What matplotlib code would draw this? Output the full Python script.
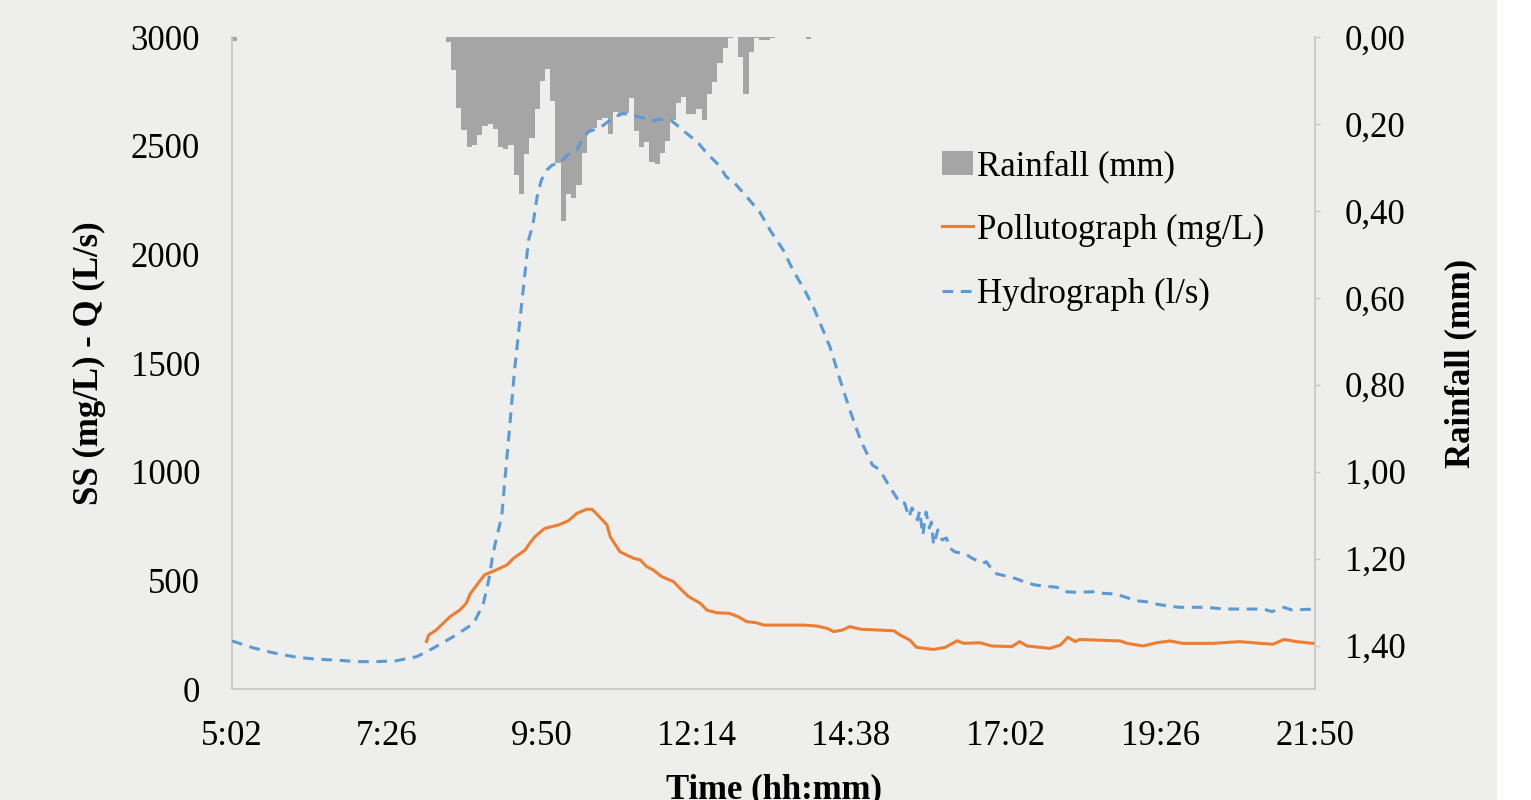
import matplotlib
matplotlib.use("Agg")
import matplotlib.pyplot as plt
from matplotlib.patches import Rectangle
import numpy as np

plt.rcParams['font.family'] = ['Liberation Serif', 'DejaVu Serif']

# ---- data ----
hydro_time = ["5:02", "5:22", "5:40", "6:02", "6:21", "6:39", "6:58", "7:17", "7:35", "7:54",
              "8:09", "8:28", "8:47", "8:56", "9:01", "9:04", "9:07", "9:13", "9:16", "9:21",
              "9:25", "9:30", "9:35", "9:38", "9:42", "9:46", "9:50", "9:55", "10:00", "10:07",
              "10:14", "10:23", "10:29", "10:34", "10:43", "10:48", "10:57", "11:06", "11:15", "11:22",
              "11:34", "11:39", "11:50", "11:56", "12:05", "12:15", "12:24", "12:35", "12:42", "12:50",
              "13:01", "13:13", "13:23", "13:35", "13:44", "13:54", "14:03", "14:12", "14:19", "14:28",
              "14:37", "14:47", "14:58", "15:05", "15:13", "15:24", "15:28", "15:32", "15:35", "15:40",
              "15:42", "15:45", "15:48", "15:51", "15:53", "15:55", "15:59", "16:03", "16:07", "16:10",
              "16:15", "16:24", "16:31", "16:41", "16:44", "16:52", "16:58", "17:11", "17:19", "17:29",
              "17:37", "17:50", "17:56", "18:08", "18:27", "18:33", "18:45", "18:52", "19:04", "19:12",
              "19:23", "19:32", "19:44", "20:09", "20:25", "20:50", "21:02", "21:10", "21:21", "21:28",
              "21:47", "21:50"]
hydro_q = [221, 189, 167, 146, 137, 133, 126, 126, 130, 149,
           187, 241, 302, 394, 502, 594, 670, 793, 962, 1238,
           1468, 1698, 1928, 2066, 2135, 2265, 2342, 2388, 2411, 2419,
           2457, 2480, 2534, 2565, 2580, 2595, 2630, 2648, 2640, 2631,
           2615, 2621, 2618, 2595, 2557, 2518, 2465, 2411, 2357, 2327,
           2265, 2196, 2110, 2020, 1928, 1844, 1759, 1652, 1568, 1422,
           1284, 1146, 1031, 1008, 939, 854, 856, 791, 833, 778,
           819, 709, 814, 741, 768, 663, 732, 686, 695, 649,
           630, 624, 601, 578, 586, 532, 525, 509, 494, 479,
           474, 468, 448, 445, 448, 440, 437, 425, 406, 402,
           390, 383, 376, 376, 368, 368, 368, 356, 376, 364,
           367, 367]

poll_time = ["8:03", "8:05", "8:12", "8:25", "8:34", "8:40", "8:44", "8:51", "8:57", "9:08",
             "9:18", "9:24", "9:35", "9:39", "9:44", "9:53", "10:06", "10:15", "10:23", "10:32",
             "10:37", "10:41", "10:51", "10:54", "11:03", "11:09", "11:16", "11:22", "11:28", "11:34",
             "11:42", "11:53", "11:59", "12:07", "12:18", "12:24", "12:33", "12:45", "12:53", "13:01",
             "13:10", "13:17", "13:32", "13:54", "14:06", "14:16", "14:22", "14:30", "14:37", "14:47",
             "15:05", "15:18", "15:24", "15:33", "15:39", "15:55", "16:06", "16:17", "16:23", "16:38",
             "16:49", "17:08", "17:15", "17:22", "17:43", "17:53", "18:00", "18:07", "18:11", "18:27",
             "18:49", "18:55", "19:10", "19:23", "19:35", "19:47", "20:15", "20:40", "20:59", "21:11",
             "21:21", "21:33", "21:48"]
poll_ss = [218, 248, 271, 333, 363, 394, 440, 486, 525, 548,
           571, 601, 640, 670, 701, 739, 755, 774, 808, 827,
           827, 808, 755, 701, 632, 617, 601, 594, 563, 548,
           517, 494, 463, 425, 394, 363, 351, 348, 333, 310,
           305, 294, 294, 294, 290, 279, 264, 271, 287, 275,
           271, 268, 248, 225, 192, 182, 192, 222, 210, 213,
           198, 195, 218, 198, 187, 202, 238, 218, 228, 225,
           221, 210, 198, 213, 221, 210, 210, 218, 210, 206,
           228, 218, 210]

# rainfall: one early reading, then a run of readings every ~4.86 min
rain_early_time = "5:02"
rain_early = 0.009
rain_start = "8:21"
rain_step = 4.86
rainfall = [0.012, 0.076, 0.164, 0.213, 0.253, 0.249, 0.226, 0.204, 0.200, 0.211,
            0.253, 0.258, 0.249, 0.318, 0.362, 0.269, 0.232, 0.166, 0.101, 0.073,
            0.148, 0.290, 0.423, 0.362, 0.371, 0.341, 0.268, 0.218, 0.210, 0.191,
            0.187, 0.224, 0.173, 0.180, 0.175, 0.141, 0.216, 0.253, 0.241, 0.287,
            0.292, 0.266, 0.239, 0.191, 0.151, 0.137, 0.176, 0.176, 0.166, 0.190,
            0.130, 0.103, 0.059, 0.026, 0.003, 0.0, 0.045, 0.131, 0.035, 0.002,
            0.007, 0.007, 0.002, 0.0, 0.0, 0.0, 0.0, 0.0, 0.0, 0.005]

x_ticks = ["5:02", "7:26", "9:50", "12:14", "14:38", "17:02", "19:26", "21:50"]
left_ticks = [0, 500, 1000, 1500, 2000, 2500, 3000]
right_ticks = [0.0, 0.2, 0.4, 0.6, 0.8, 1.0, 1.2, 1.4]


def hm(s):
    h, m = s.split(":")
    return int(h) * 60 + int(m)


bg = '#EEEEEC'
fig = plt.figure(figsize=(15.31, 8.0), dpi=100, facecolor='white')
fig.patches.append(Rectangle((0, 0), 1497 / 1531, 1, transform=fig.transFigure,
                             facecolor=bg, edgecolor='none', zorder=-10))

ax2 = fig.add_axes([232 / 1531, 1 - 689 / 800, (1315 - 232) / 1531, (689 - 37) / 800])
ax = ax2.twinx()
# main axis on the left, rain axis on the right (bars drawn under the lines)
ax.yaxis.tick_left()
ax.yaxis.set_label_position('left')
ax2.yaxis.tick_right()
ax2.yaxis.set_label_position('right')
ax2.set_facecolor(bg)
ax.patch.set_visible(False)

# rainfall bars hanging from the top
rt = [hm(rain_start) + rain_step * i for i in range(len(rainfall))]
ax2.bar([hm(rain_early_time)] + rt, [rain_early] + rainfall, width=rain_step,
        align='edge', color='#A5A5A5', linewidth=0, label='Rainfall (mm)')
ax2.set_ylim(1.5, 0)
ax2.set_yticks(right_ticks)
ax2.set_yticklabels([("%.2f" % v).replace(".", ",") for v in right_ticks])

ht = [hm(t) for t in hydro_time]
pt = [hm(t) for t in poll_time]
lp, = ax.plot(pt, poll_ss, color='#ED7D31', lw=2.2, label='Pollutograph (mg/L)')
lh, = ax.plot(ht, hydro_q, color='#5B9BD5', lw=2.2, dashes=(3.5, 2.5),
              label='Hydrograph (l/s)')
ax.set_ylim(0, 3000)
ax.set_yticks(left_ticks)
ax.set_xlim(hm("5:02"), hm("21:50"))
ax2.set_xticks([hm(t) for t in x_ticks])
ax2.set_xticklabels(x_ticks)

fs = 25
for a in (ax, ax2):
    for s in a.spines.values():
        s.set_visible(False)
for k in ('left', 'bottom', 'right'):
    ax2.spines[k].set_visible(True)
    ax2.spines[k].set_color('#C8C8C8')
    ax2.spines[k].set_linewidth(1.3)

ax.tick_params(axis='y', length=0, pad=23, labelsize=fs)
ax2.tick_params(axis='x', length=0, pad=22, labelsize=fs)
ax2.tick_params(axis='y', length=3.5, width=1, color='#C8C8C8', direction='out', pad=18, labelsize=fs)

ax.set_ylabel("SS (mg/L) - Q (L/s)", fontsize=fs, fontweight='bold', labelpad=18)
ax2.set_ylabel("Rainfall (mm)", fontsize=fs, fontweight='bold', labelpad=28)
ax2.set_xlabel("Time (hh:mm)", fontsize=fs, fontweight='bold', labelpad=15)

bars_handle = ax2.containers[0]
fig.legend([bars_handle, lp, lh], ['Rainfall (mm)', 'Pollutograph (mg/L)', 'Hydrograph (l/s)'],
           loc='upper left', bbox_to_anchor=(942 / 1531, 1 - 150 / 800), frameon=False,
           fontsize=fs, handlelength=0.9, handletextpad=0.1, labelspacing=0.88,
           borderpad=0, borderaxespad=0)

fig.savefig("out.png", dpi=100, facecolor='white')
